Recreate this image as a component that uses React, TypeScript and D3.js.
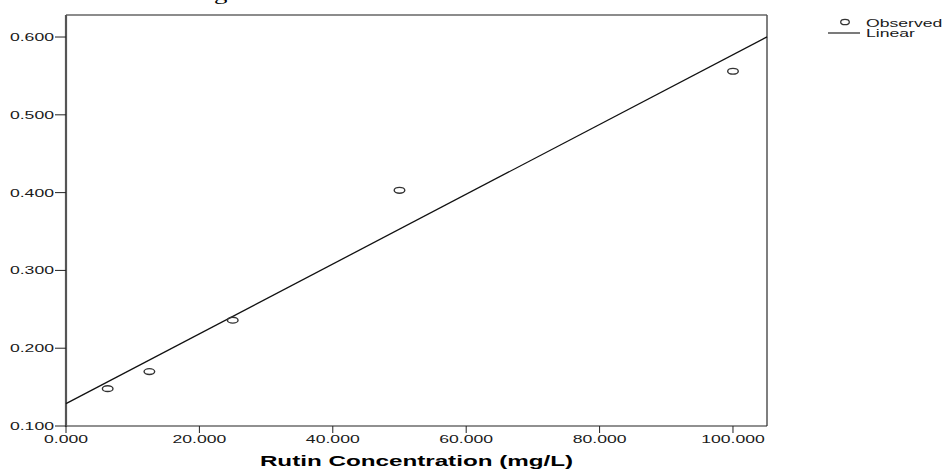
import React, { useEffect, useRef } from 'react';
import * as d3 from 'd3';

const concentrations = [6.25, 12.5, 25, 50, 100];
const absorbances = [0.148, 0.170, 0.236, 0.403, 0.556];
const xTicks = [0, 20, 40, 60, 80, 100];
const yTicks = [0.1, 0.2, 0.3, 0.4, 0.5, 0.6];
const legendItems = ['Observed', 'Linear'];

const App = () => {
  const svgRef = useRef<SVGSVGElement>(null);

  useEffect(() => {
    const svg = d3.select(svgRef.current);
    svg.selectAll('*').remove();

    const font = 'Liberation Sans, Arial, sans-serif';
    const stretch = 1.68; // the picture's text is drawn wide
    const left = 66, right = 767, top = 15, bottom = 426;

    const x = d3.scaleLinear().domain([0, 105.1]).range([left, right]);
    const y = d3.scaleLinear().domain([0.1, 0.6283]).range([bottom, top]);

    // text helper: stretched horizontally around its anchor point
    const label = (g: any, tx: number, ty: number, s: string, size: number, anchor: string, sx = stretch) =>
      g.append('text')
        .attr('transform', `translate(${tx},${ty}) scale(${sx},1)`)
        .attr('text-anchor', anchor)
        .attr('font-family', font)
        .attr('font-size', size)
        .attr('fill', '#1a1a1a')
        .text(s);

    // cut-off caption above the chart
    svg.append('text')
      .attr('transform', 'translate(214,0) scale(1.68,1)')
      .attr('font-family', 'Liberation Serif, Times New Roman, serif')
      .attr('font-size', 16)
      .text('g');

    // frame
    svg.append('line').attr('x1', left).attr('x2', right).attr('y1', top).attr('y2', top)
      .attr('stroke', '#666').attr('stroke-width', 1.5);
    svg.append('line').attr('x1', right).attr('x2', right).attr('y1', top).attr('y2', bottom)
      .attr('stroke', '#555').attr('stroke-width', 1.5);
    svg.append('line').attr('x1', left).attr('x2', right).attr('y1', bottom).attr('y2', bottom)
      .attr('stroke', '#222').attr('stroke-width', 1.2);
    svg.append('line').attr('x1', left).attr('x2', left).attr('y1', top).attr('y2', bottom + 1)
      .attr('stroke', '#555').attr('stroke-width', 2.2);

    // y ticks
    const yg = svg.append('g');
    yTicks.forEach(t => {
      yg.append('line').attr('x1', left - 11).attr('x2', left).attr('y1', y(t)).attr('y2', y(t))
        .attr('stroke', '#222').attr('stroke-width', 1);
      label(yg, left - 12, y(t) + 4, d3.format('.3f')(t), 10.5, 'end');
    });

    // x ticks
    const xg = svg.append('g');
    xTicks.forEach(t => {
      xg.append('line').attr('x1', x(t)).attr('x2', x(t)).attr('y1', bottom).attr('y2', bottom + 7)
        .attr('stroke', '#222').attr('stroke-width', 1);
      label(xg, x(t), bottom + 17, d3.format('.3f')(t), 10.5, 'middle');
    });

    label(svg, (left + right) / 2, 466, 'Rutin Concentration (mg/L)', 14, 'middle', 1.73)
      .attr('font-weight', 'bold').attr('fill', '#000');

    // linear fit
    const mx = d3.mean(concentrations)!;
    const my = d3.mean(absorbances)!;
    const sxy = d3.sum(concentrations, (c, i) => (c - mx) * (absorbances[i] - my));
    const sxx = d3.sum(concentrations, c => (c - mx) * (c - mx));
    const slope = sxy / sxx;
    const intercept = my - slope * mx;
    const [x0, x1] = x.domain();
    const line = d3.line<number>().x(d => x(d)).y(d => y(intercept + slope * d));
    svg.append('path').datum([x0, x1]).attr('d', line)
      .attr('fill', 'none').attr('stroke', '#111').attr('stroke-width', 1.3);

    // observed points
    svg.selectAll('.pt').data(concentrations).enter().append('ellipse')
      .attr('class', 'pt')
      .attr('cx', d => x(d)).attr('cy', (d, i) => y(absorbances[i]))
      .attr('rx', 5.3).attr('ry', 2.9)
      .attr('fill', 'none').attr('stroke', '#333').attr('stroke-width', 1.4);

    // legend
    const lg = svg.append('g');
    lg.append('ellipse').attr('cx', 845).attr('cy', 22).attr('rx', 4.3).attr('ry', 2.7)
      .attr('fill', 'none').attr('stroke', '#333').attr('stroke-width', 1.3);
    lg.append('line').attr('x1', 828).attr('x2', 860).attr('y1', 33).attr('y2', 33)
      .attr('stroke', '#222').attr('stroke-width', 1.2);
    legendItems.forEach((name, i) => {
      label(lg, 866, 27 + i * 10, name, 10.5, 'start');
    });
  }, []);

  return (
    <svg ref={svgRef} width={944} height={469}
      style={{ position: 'absolute', left: 0, top: 0, background: '#fff' }} />
  );
};

export default App;
